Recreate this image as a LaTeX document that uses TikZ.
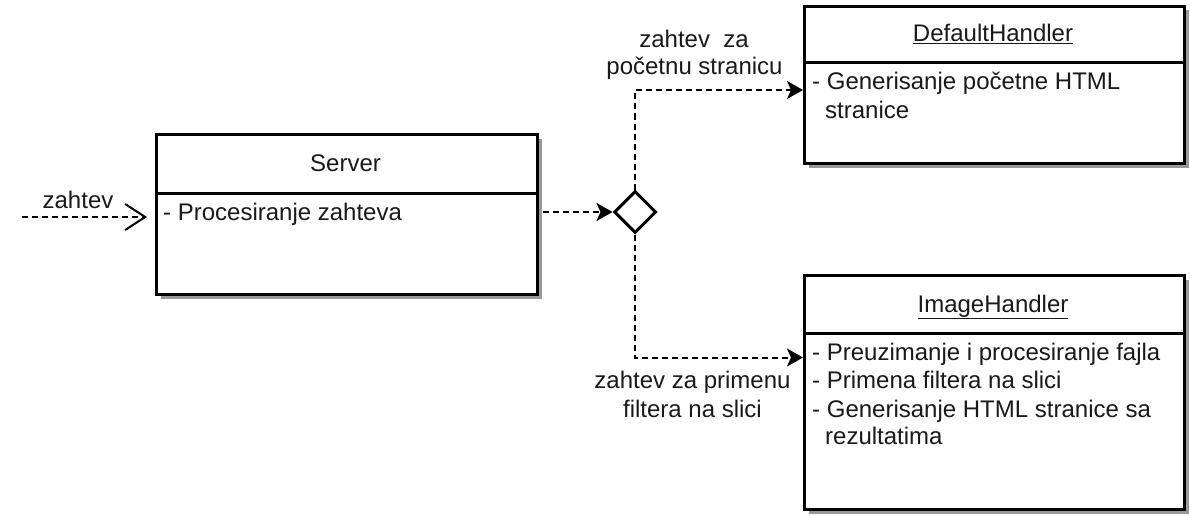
\documentclass[tikz,border=0pt]{standalone}
\usepackage{fontspec}
\setmainfont{Liberation Sans}
\usetikzlibrary{arrows.meta,shapes.geometric,shadows}
\begin{document}
\begin{tikzpicture}[x=1pt,y=-1pt,
  every node/.style={font=\fontsize{24}{28.5}\selectfont, text=black!90, inner sep=0pt},
  classbox/.style={draw, line width=3pt, fill=white, anchor=north west,
    drop shadow={shadow xshift=4pt, shadow yshift=-4pt, fill=black!40, opacity=1}},
  divider/.style={line width=3pt},
  conn/.style={line width=2pt, dash pattern=on 6pt off 4pt},
  filledtip/.style={-{Stealth[length=16pt,width=18pt,inset=4pt]}},
  opentip/.style={-{Straight Barb[length=20pt,width=26pt,line width=2pt]}},
  title/.style={anchor=base},
  row/.style={anchor=base west},
  lbl/.style={anchor=base},
  choice/.style={diamond, draw, line width=3pt, fill=white, aspect=1, minimum size=42pt}]
\useasboundingbox (0,0) rectangle (1190,516);

% Server
\node[classbox, minimum width=381pt, minimum height=160pt] (srv) at (155,133) {};
\draw[divider] (srv.north west |- 0,193) -- (srv.north east |- 0,193);
\node[title] (srvt) at (345.5,171) {Server};
\node[row] (srv1) at (163,220) {- Procesiranje zahteva};

% DefaultHandler
\node[classbox, minimum width=380pt, minimum height=157pt] (dh) at (803,5) {};
\draw[divider] (dh.north west |- 0,63) -- (dh.north east |- 0,63);
\node[title] (dht) at (993,42) {\underline{DefaultHandler}};
\node[row] (dh1) at (812,90) {- Generisanje početne HTML};
\node[row] (dh2) at (825,118) {stranice};

% ImageHandler
\node[classbox, minimum width=380pt, minimum height=234pt] (ih) at (803,274) {};
\draw[divider] (ih.north west |- 0,333) -- (ih.north east |- 0,333);
\node[title] (iht) at (993,312) {\underline{ImageHandler}};
\node[row] (ih1) at (812,360) {- Preuzimanje i procesiranje fajla};
\node[row] (ih2) at (812,388) {- Primena filtera na slici};
\node[row] (ih3) at (812,417) {- Generisanje HTML stranice sa};
\node[row] (ih4) at (825,444) {rezultatima};

% decision
\node[choice] (dia) at (635,212) {};

% connectors
\coordinate (in) at (22,217);
\coordinate (srvin) at (147,217);
\draw[conn, opentip] (in) -- (srvin);
\node[lbl] (inl) at (78,208) {zahtev};

\draw[conn, filledtip, shorten <=4pt] (srv.east |- dia.west) -- (dia.west);

\path (dh.west) ++(0,5) coordinate (dhin);
\draw[conn, filledtip] (dia.north) |- (dhin);
\node[lbl] (dhl1) at (694,48) {zahtev\ \ za};
\node[lbl] (dhl2) at (694.5,75) {početnu stranicu};

\path (ih.west) ++(0,-35) coordinate (ihin);
\draw[conn, filledtip] (dia.south) |- (ihin);
\node[lbl] (ihl1) at (692.5,388) {zahtev za primenu};
\node[lbl] (ihl2) at (692.5,417) {filtera na slici};
\end{tikzpicture}
\end{document}
